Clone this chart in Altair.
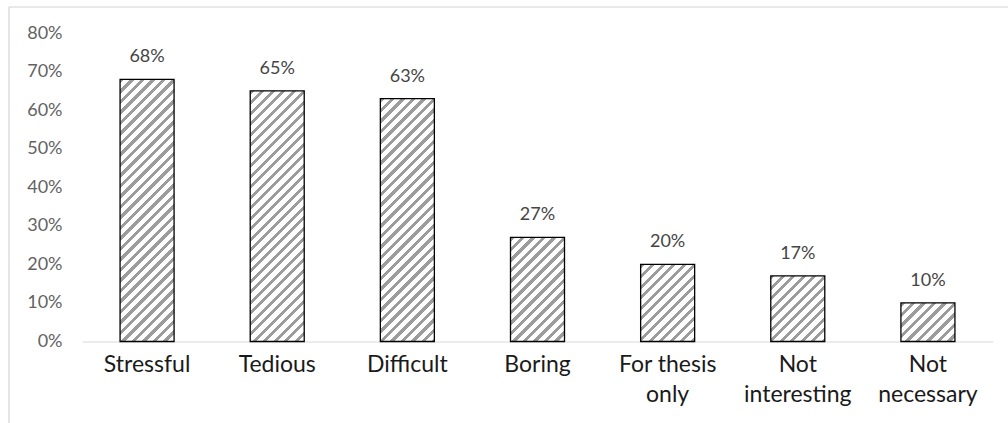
import altair as alt
import pandas as pd

categories = ["Stressful", "Tedious", "Difficult", "Boring",
              "For thesis only", "Not interesting", "Not necessary"]
values = [0.68, 0.65, 0.63, 0.27, 0.20, 0.17, 0.10]
y_ticks = [0.0, 0.1, 0.2, 0.3, 0.4, 0.5, 0.6, 0.7, 0.8]

df = pd.DataFrame({"category": categories, "value": values})

PLOT_W = 911
PLOT_H = 308.5
YMAX = 0.8
PAD_INNER = 0.585
PAD_OUTER = PAD_INNER / 2
step = PLOT_W / (len(categories) - PAD_INNER + 2 * PAD_OUTER)
BAR_W = step * (1 - PAD_INNER)
FONT = "Lato"


def hatch(h_px, w_px, period=10.5, frac=0.4, color="#9c9c9c"):
    total = w_px + h_px
    d = w_px ** 2 + h_px ** 2
    gx = w_px * total / d
    gy = h_px * total / d
    stops = []
    n = int(total / period) + 1
    for i in range(n):
        a = min(1.0, i * period / total)
        b = min(1.0, (i + frac) * period / total)
        c = min(1.0, (i + 1) * period / total)
        stops += [{"offset": a, "color": color}, {"offset": b, "color": color},
                  {"offset": b, "color": "#ffffff"}, {"offset": c, "color": "#ffffff"}]
    return {"gradient": "linear", "x1": 0, "y1": 0, "x2": gx, "y2": gy, "stops": stops}


x_enc = alt.X(
    "category:N",
    sort=categories,
    scale=alt.Scale(domain=categories, paddingInner=PAD_INNER, paddingOuter=PAD_OUTER),
    axis=alt.Axis(
        title=None, labelAngle=0, ticks=False, tickSize=0, labelPadding=12,
        labelFont=FONT, labelFontSize=23, labelColor="#1a1a1a", labelLineHeight=30,
        labelExpr="datum.label == 'For thesis only' ? ['For thesis', 'only'] : split(datum.label, ' ')",
        domain=True, domainColor="#d9d9d9", domainWidth=1.2, grid=False,
    ),
)
y_enc = alt.Y(
    "value:Q",
    scale=alt.Scale(domain=[0, YMAX]),
    axis=alt.Axis(
        title=None, values=y_ticks, format=".0%", ticks=False, domain=False, grid=False,
        labelFont=FONT, labelFontSize=18, labelColor="#636363", labelPadding=20,
    ),
)

bars = []
for c, v in zip(categories, values):
    h = v / YMAX * PLOT_H
    bars.append(
        alt.Chart(df)
        .transform_filter(alt.FieldEqualPredicate(field="category", equal=c))
        .mark_bar(fill=hatch(h, BAR_W), stroke="#000000", strokeWidth=1.3)
        .encode(x=x_enc, y=y_enc)
    )

labels = (
    alt.Chart(df)
    .mark_text(dy=-22, font=FONT, fontSize=18, color="#454545")
    .encode(x=x_enc, y=y_enc, text=alt.Text("value:Q", format=".0%"))
)

one = pd.DataFrame({"k": [0]})
frame_left = alt.Chart(one).mark_rule(color="#d4d4d4", strokeWidth=1.2).encode(
    x=alt.value(-73), y=alt.value(-26), y2=alt.value(400))
frame_top = alt.Chart(one).mark_rule(color="#d4d4d4", strokeWidth=1.2).encode(
    x=alt.value(-73), x2=alt.value(940), y=alt.value(-26))

chart = (
    alt.layer(frame_left, frame_top, *bars, labels)
    .properties(
        width=PLOT_W, height=PLOT_H,
        autosize=alt.AutoSizeParams(type="none"),
        padding={"left": 82, "top": 33, "right": 15, "bottom": 81.5},
        background="#ffffff",
    )
    .configure_view(stroke=None)
)

chart.save("out.html", embed_options={"renderer": "svg", "actions": False})
